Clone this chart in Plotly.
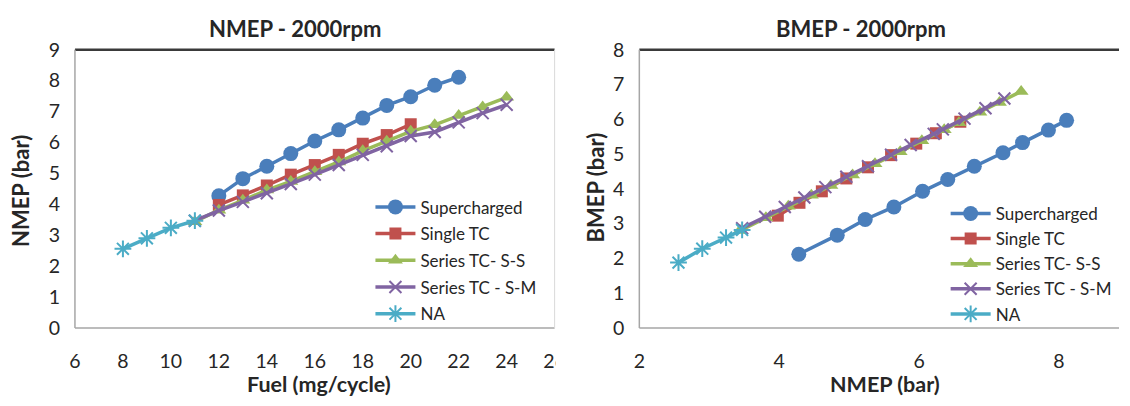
import plotly.graph_objects as go

# ---------------- data ----------------
series_names = ["Supercharged", "Single TC", "Series TC- S-S", "Series TC - S-M", "NA"]

fuel_sc = [12, 13, 14, 15, 16, 17, 18, 19, 20, 21, 22]
nmep_sc = [4.28, 4.83, 5.23, 5.64, 6.05, 6.41, 6.79, 7.20, 7.48, 7.85, 8.11]
bmep_sc = [2.12, 2.67, 3.12, 3.48, 3.93, 4.27, 4.65, 5.04, 5.33, 5.69, 5.97]

fuel_stc = [12, 13, 14, 15, 16, 17, 18, 19, 20]
nmep_stc = [3.98, 4.29, 4.61, 4.96, 5.27, 5.60, 5.96, 6.24, 6.59]
bmep_stc = [3.23, 3.60, 3.93, 4.30, 4.62, 4.97, 5.30, 5.60, 5.93]

fuel_ss = [11, 12, 13, 14, 15, 16, 17, 18, 19, 20, 21, 22, 23, 24]
nmep_ss = [3.44, 3.81, 4.13, 4.46, 4.74, 5.05, 5.37, 5.73, 6.04, 6.36, 6.57, 6.87, 7.15, 7.46]
bmep_ss = [2.80, 3.17, 3.50, 3.82, 4.10, 4.40, 4.72, 5.07, 5.38, 5.70, 5.90, 6.20, 6.48, 6.80]

fuel_sm = [11, 12, 13, 14, 15, 16, 17, 18, 19, 20, 21, 22, 23, 24]
nmep_sm = [3.47, 3.80, 4.08, 4.36, 4.66, 4.96, 5.27, 5.60, 5.88, 6.21, 6.34, 6.65, 6.95, 7.22]
bmep_sm = [2.87, 3.20, 3.48, 3.75, 4.05, 4.35, 4.65, 4.98, 5.26, 5.58, 5.71, 6.02, 6.32, 6.60]

fuel_na = [8, 9, 10, 11]
nmep_na = [2.56, 2.90, 3.24, 3.47]
bmep_na = [1.88, 2.28, 2.60, 2.82]

left_x_ticks = [6, 8, 10, 12, 14, 16, 18, 20, 22, 24, 26]
left_y_ticks = [0, 1, 2, 3, 4, 5, 6, 7, 8, 9]
right_x_ticks = [2, 4, 6, 8]
right_y_ticks = [0, 1, 2, 3, 4, 5, 6, 7, 8]

# ---------------- styles ----------------
W, H = 1130, 406
FONT = "Lato, 'Open Sans', sans-serif"
TXT = "#262626"
colors = ["#4A7EBB", "#C0504D", "#9BBB59", "#8064A2", "#4BACC6"]
symbols = ["circle", "square", "triangle-up", "x-thin-open", "asterisk-open"]
sizes = [15, 12, 13, 12, 14]

left_data = [(fuel_sc, nmep_sc), (fuel_stc, nmep_stc), (fuel_ss, nmep_ss),
             (fuel_sm, nmep_sm), (fuel_na, nmep_na)]
right_data = [(nmep_sc, bmep_sc), (nmep_stc, bmep_stc), (nmep_ss, bmep_ss),
              (nmep_sm, bmep_sm), (nmep_na, bmep_na)]

def px(v):
    return v / W

def py(v):
    return 1 - v / H

fig = go.Figure()

for side, data, xa, ya, leg in [("L", left_data, "x", "y", "legend"),
                                ("R", right_data, "x2", "y2", "legend2")]:
    for i, (xs, ys) in enumerate(data):
        open_sym = symbols[i].endswith("open")
        marker = dict(symbol=symbols[i], size=sizes[i], color=colors[i],
                      line=dict(width=2 if open_sym else 0, color=colors[i]))
        fig.add_trace(go.Scatter(
            x=xs, y=ys, mode="lines+markers", name=series_names[i],
            line=dict(color=colors[i], width=3.5),
            marker=marker, xaxis=xa, yaxis=ya, legend=leg,
            legendgroup=f"{side}{i}", showlegend=True,
            cliponaxis=False))

L_x0, L_x1 = 70, 557
R_x0, R_x1 = 643, 1130
Y_top, Y_bot = 40, 335
R_PX_PER_UNIT = 71.0

axis_common = dict(showgrid=False, zeroline=False, showline=False, ticks="",
                   tickfont=dict(family=FONT, size=19.5, color=TXT))

fig.update_layout(
    width=W, height=H, margin=dict(l=0, r=0, t=0, b=0), autosize=False,
    paper_bgcolor="white", plot_bgcolor="white",
    xaxis=dict(domain=[px(L_x0), px(L_x1)], range=[6, 26], tickvals=left_x_ticks,
               ticklabelstandoff=19, anchor="y", **axis_common),
    yaxis=dict(domain=[py(Y_bot), py(Y_top)], range=[0, 9], tickvals=left_y_ticks,
               ticklabelstandoff=14, anchor="x", **axis_common),
    xaxis2=dict(domain=[px(R_x0), px(R_x1)],
                range=[2, 2 + (R_x1 - R_x0) / R_PX_PER_UNIT],
                tickvals=right_x_ticks, ticklabelstandoff=19, anchor="y2", **axis_common),
    yaxis2=dict(domain=[py(Y_bot), py(Y_top)], range=[0, 8], tickvals=right_y_ticks,
                ticklabelstandoff=14, anchor="x2", **axis_common),
    legend=dict(x=px(370), y=py(188), xanchor="left", yanchor="top",
                font=dict(family=FONT, size=17, color=TXT), bgcolor="rgba(0,0,0,0)",
                traceorder="grouped", tracegroupgap=1.6, itemwidth=40),
    legend2=dict(x=px(954), y=py(195), xanchor="left", yanchor="top",
                 font=dict(family=FONT, size=17, color=TXT), bgcolor="rgba(0,0,0,0)",
                 traceorder="grouped", tracegroupgap=0, itemwidth=40),
)

shapes = []
for xr, yr, has_right in [("x domain", "y domain", True), ("x2 domain", "y2 domain", False)]:
    shapes.append(dict(type="line", xref=xr, yref=yr, x0=0, x1=1, y0=1, y1=1,
                       line=dict(color="#3a3a3a", width=2.5), layer="below"))
    shapes.append(dict(type="line", xref=xr, yref=yr, x0=0, x1=1, y0=0, y1=0,
                       line=dict(color="#a6a6a6", width=1.5), layer="below"))
    shapes.append(dict(type="line", xref=xr, yref=yr, x0=0, x1=0, y0=0, y1=1,
                       line=dict(color="#a6a6a6", width=1.5), layer="below"))
    if has_right:
        shapes.append(dict(type="line", xref=xr, yref=yr, x0=1, x1=1, y0=0, y1=1,
                           line=dict(color="#d9d9d9", width=1), layer="below"))
# the source image is cropped right after the left panel, cutting its last tick label
shapes.append(dict(type="rect", xref="paper", yref="paper",
                   x0=px(558), x1=px(600), y0=py(382), y1=py(350),
                   fillcolor="white", line=dict(width=0), layer="above"))
fig.update_layout(shapes=shapes)

annotations = []
for text, xx, yy, size in [("<b>NMEP - 2000rpm</b>", 293, 18, 22),
                           ("<b>BMEP - 2000rpm</b>", 868, 18, 22),
                           ("<b>Fuel (mg/cycle)</b>", 318, 394, 21.5),
                           ("<b>NMEP (bar)</b>", 892, 394, 21.5)]:
    annotations.append(dict(text=text, x=px(xx), y=py(yy), xref="paper", yref="paper",
                            xanchor="center", yanchor="middle", showarrow=False,
                            font=dict(family=FONT, size=size, color=TXT)))
for text, xx, yy in [("<b>NMEP (bar)</b>", 14, 190), ("<b>BMEP (bar)</b>", 598, 186)]:
    annotations.append(dict(text=text, x=px(xx), y=py(yy), xref="paper", yref="paper",
                            xanchor="center", yanchor="middle", showarrow=False, textangle=-90,
                            font=dict(family=FONT, size=22, color=TXT)))
fig.update_layout(annotations=annotations)

fig.write_html("out.html")
